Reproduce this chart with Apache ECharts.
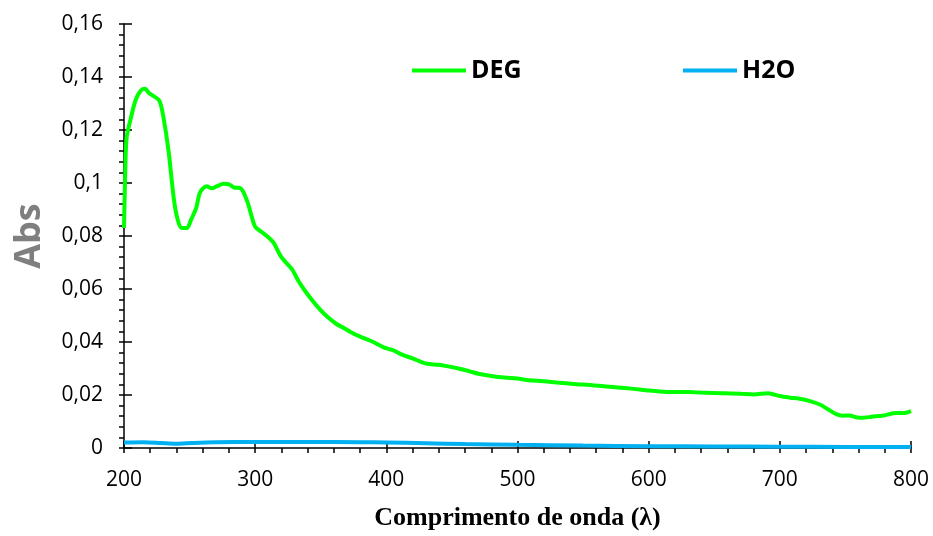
<!DOCTYPE html>
<html>
<head>
<meta charset="utf-8">
<script src="https://cdn.jsdelivr.net/npm/echarts@6/dist/echarts.min.js"></script>
<style>
  html, body { margin: 0; padding: 0; background: #fff; }
  #chart { width: 933px; height: 536px; }
</style>
</head>
<body>
<div id="chart"></div>
<script>
// espectro DEG (comprimento de onda, absorbância)
var degWl = [200, 201, 202, 205, 209, 213, 216, 219, 222, 227, 230, 234, 238, 241, 244, 248, 251, 255, 258, 263,
    267, 271, 276, 280, 284, 289, 294, 297, 300, 305, 310, 314, 320, 328, 333, 337, 343, 349, 355, 362,
    368, 373, 380, 390, 398, 405, 412, 420, 430, 440, 446, 455, 463, 471, 480, 490, 500, 507, 520, 532,
    545, 557, 570, 585, 598, 608, 620, 631, 640, 657, 670, 680, 691, 700, 708, 715, 723, 731, 737, 743,
    748, 753, 758, 763, 770, 779, 789, 795, 800];
var degAbs = [0.083, 0.105, 0.117, 0.124, 0.1315, 0.135, 0.1356, 0.134, 0.133, 0.131, 0.125, 0.112, 0.094, 0.086, 0.083, 0.083, 0.086, 0.0905, 0.0965, 0.0988,
    0.098, 0.0988, 0.0997, 0.0995, 0.0983, 0.098, 0.093, 0.088, 0.0835, 0.0815, 0.0795, 0.0775, 0.072, 0.0675, 0.063, 0.060, 0.056, 0.0525, 0.0495, 0.0468,
    0.0452, 0.0437, 0.042, 0.040, 0.038, 0.0369, 0.0352, 0.0338, 0.0319, 0.0314, 0.0309, 0.030, 0.029, 0.0279, 0.0272, 0.0266, 0.0262, 0.0257, 0.0252, 0.0246,
    0.0241, 0.0237, 0.0231, 0.0225, 0.0218, 0.0213, 0.0211, 0.0211, 0.0209, 0.0207, 0.0205, 0.0202, 0.0207, 0.0196, 0.019, 0.0186, 0.0177, 0.0163, 0.0145, 0.0128,
    0.0122, 0.0123, 0.0116, 0.0114, 0.0118, 0.0123, 0.0132, 0.0132, 0.0139];

// espectro H2O
var h2oWl = [200, 215, 228, 240, 252, 270, 300, 340, 380, 400, 430, 460, 500, 550, 600, 650, 700, 750, 800];
var h2oAbs = [0.0021, 0.0022, 0.0019, 0.0016, 0.0019, 0.0022, 0.0023, 0.0023, 0.0022, 0.0021, 0.0018, 0.0015, 0.0012, 0.0009, 0.0007, 0.0006, 0.0005, 0.0004, 0.0004];

var seriesNames = ['DEG', 'H2O'];
var seriesColors = ['#00ff00', '#00b0f0'];

var labelFont = '"Open Sans", sans-serif';

function pares(xs, ys) {
    var out = [];
    for (var i = 0; i < xs.length; i++) {
        out.push([xs[i], ys[i]]);
    }
    return out;
}

// 0.1 -> "0,1"
function virgula(v) {
    return String(parseFloat(v.toFixed(3))).replace('.', ',');
}

var myChart = echarts.init(document.getElementById('chart'));

var option = {
    animation: false,
    backgroundColor: '#fff',
    grid: { left: 124, right: 22, top: 24, bottom: 84 },
    legend: [{
        data: [seriesNames[0]],
        left: 407, top: 53,
        icon: 'rect', itemWidth: 54, itemHeight: 4,
        textStyle: { fontFamily: labelFont, fontSize: 25, fontWeight: 'bold', color: '#000' }
    }, {
        data: [seriesNames[1]],
        left: 678, top: 53,
        icon: 'rect', itemWidth: 54, itemHeight: 4,
        textStyle: { fontFamily: labelFont, fontSize: 25, fontWeight: 'bold', color: '#000' }
    }],
    xAxis: [{
        type: 'value', min: 200, max: 800, interval: 100,
        name: 'Comprimento de onda (λ)', nameLocation: 'middle', nameGap: 57,
        nameTextStyle: { fontFamily: '"Liberation Serif", serif', fontSize: 26, fontWeight: 'bold', color: '#000' },
        axisLine: { show: true, lineStyle: { color: '#000', width: 1.5 } },
        axisTick: { show: true, inside: true, length: 7, lineStyle: { color: '#000', width: 1.5 } },
        axisLabel: { margin: 22, fontFamily: labelFont, fontSize: 21, color: '#000' },
        splitLine: { show: false }
    }, {
        // só para os ticks de fora
        type: 'value', min: 200, max: 800, interval: 100, position: 'bottom', gridIndex: 0,
        axisLine: { show: false },
        axisTick: { show: true, length: 5, lineStyle: { color: '#000', width: 1.5 } },
        minorTick: { show: true, splitNumber: 5, length: 5, lineStyle: { color: '#000', width: 1.5 } },
        axisLabel: { show: false },
        splitLine: { show: false }
    }],
    yAxis: [{
        type: 'value', min: 0, max: 0.16, interval: 0.02,
        name: 'Abs', nameLocation: 'middle', nameGap: 76,
        nameTextStyle: { fontFamily: labelFont, fontSize: 36, fontWeight: 'bold', color: '#7f7f7f' },
        axisLine: { show: true, lineStyle: { color: '#000', width: 1.5 } },
        axisTick: { show: true, inside: true, length: 8, lineStyle: { color: '#000', width: 1.5 } },
        axisLabel: { margin: 21, fontFamily: labelFont, fontSize: 21, color: '#000', formatter: virgula },
        splitLine: { show: false }
    }, {
        type: 'value', min: 0, max: 0.16, interval: 0.02, position: 'left', gridIndex: 0,
        axisLine: { show: false },
        axisTick: { show: true, length: 5, lineStyle: { color: '#000', width: 1.5 } },
        minorTick: { show: true, splitNumber: 5, length: 5, lineStyle: { color: '#000', width: 1.5 } },
        axisLabel: { show: false },
        splitLine: { show: false }
    }],
    series: [{
        name: seriesNames[0], type: 'line', xAxisIndex: 0, yAxisIndex: 0,
        data: pares(degWl, degAbs),
        showSymbol: false, smooth: 0.3,
        itemStyle: { color: seriesColors[0] },
        lineStyle: { color: seriesColors[0], width: 4 }
    }, {
        name: seriesNames[1], type: 'line', xAxisIndex: 0, yAxisIndex: 0,
        data: pares(h2oWl, h2oAbs),
        showSymbol: false, smooth: 0.3,
        itemStyle: { color: seriesColors[1] },
        lineStyle: { color: seriesColors[1], width: 4 }
    }]
};

myChart.setOption(option);
</script>
</body>
</html>
